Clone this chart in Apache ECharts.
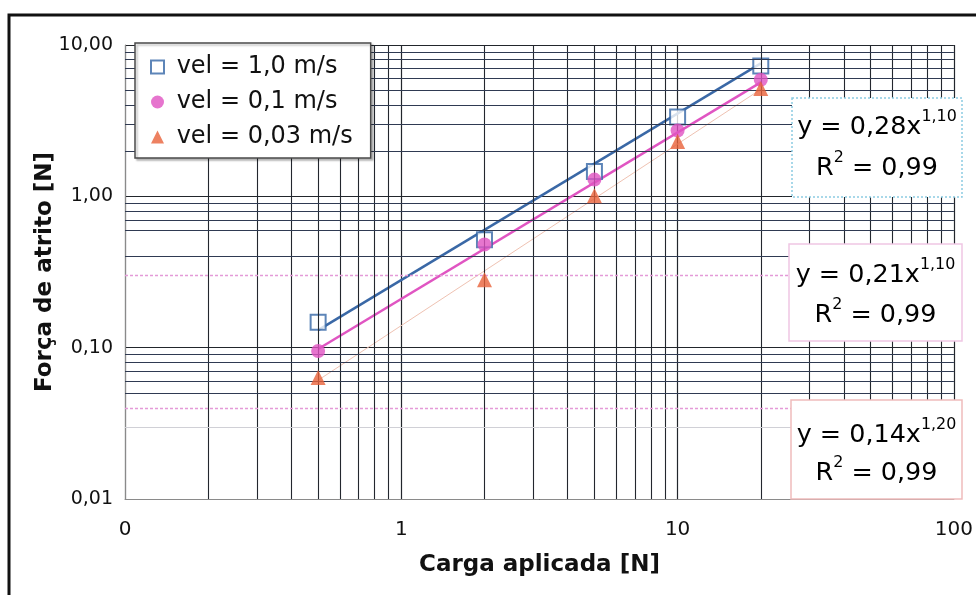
<!DOCTYPE html>
<html>
<head>
<meta charset="utf-8">
<script src="https://cdn.jsdelivr.net/npm/echarts@6/dist/echarts.min.js"></script>
<style>
  html, body { margin: 0; padding: 0; background: #fff; }
  #chart { width: 976px; height: 595px; }
</style>
</head>
<body>
<div id="chart"></div>
<script>
// Applied load [N] and measured friction force [N] for three sliding speeds
const loads = [0.5, 2, 5, 10, 20];
const seriesNames = ['vel = 1,0 m/s', 'vel = 0,1 m/s', 'vel = 0,03 m/s'];
const forceVel100 = [0.147, 0.517, 1.46, 3.34, 7.26];
const forceVel010 = [0.095, 0.48, 1.29, 2.72, 5.9];
const forceVel003 = [0.0634, 0.281, 1.01, 2.30, 5.15];

// Power-law fits y = a * x^b for each speed
const fitCoef = [0.28, 0.21, 0.14];
const fitExp = [1.10, 1.10, 1.20];
const fitR2 = [0.99, 0.99, 0.99];

// Axis tick labels (one per decade)
const xTickLabels = ['0', '1', '10', '100'];
const yTickLabels = ['0,01', '0,10', '1,00', '10,00'];

// Minor grid positions
const xMinorGrid = [0.2, 0.3, 0.4, 0.5, 0.6, 0.7, 0.8, 0.9,
                    2, 3, 4, 5, 6, 7, 8, 9,
                    20, 30, 40, 50, 60, 70, 80, 90];
const yMinorGrid = [0.05, 0.06, 0.07, 0.08, 0.09,
                    0.4, 0.6, 0.7, 0.8, 0.9,
                    2, 3, 4, 5, 6, 7, 8, 9];
const yPinkGrid = [0.04, 0.3];
const yFaintGrid = [0.03];

const FONT = 'DejaVu Sans';
const colors = ['#3566a6', '#e052c2', '#e8623a'];
const fitColors = ['#3a68a6', '#e055c2', '#efc2b2'];
const fitWidths = [2.5, 2.5, 1];

const decimalComma = v => v.toFixed(2).replace('.', ',');

function fitLine(i) {
  const x0 = loads[0], x1 = loads[loads.length - 1];
  return [[x0, fitCoef[i] * Math.pow(x0, fitExp[i])],
          [x1, fitCoef[i] * Math.pow(x1, fitExp[i])]];
}

const gridLines = [];
xMinorGrid.forEach(v => gridLines.push({ xAxis: v, lineStyle: { color: '#23272e', width: 1.1, type: 'solid' } }));
yMinorGrid.forEach(v => gridLines.push({ yAxis: v, lineStyle: { color: '#2f3a52', width: 1.1, type: 'solid' } }));
yPinkGrid.forEach(v => gridLines.push({ yAxis: v, lineStyle: { color: '#e49ad8', width: 1.3, type: [3, 2] } }));
yFaintGrid.forEach(v => gridLines.push({ yAxis: v, lineStyle: { color: '#d0d0d6', width: 1, type: 'solid' } }));

const chart = echarts.init(document.getElementById('chart'));

const forces = [forceVel100, forceVel010, forceVel003];
const symbols = ['emptyRect', 'circle', 'triangle'];
const symbolSizes = [15, 14, 15];

const fitSeries = forces.map((_, i) => ({
  type: 'line',
  name: 'fit' + i,
  data: fitLine(i),
  symbol: 'none',
  silent: true,
  z: 3,
  lineStyle: { color: fitColors[i], width: fitWidths[i] }
}));

const pointSeries = forces.map((f, i) => ({
  type: 'scatter',
  name: seriesNames[i],
  data: loads.map((x, k) => [x, f[k]]),
  symbol: symbols[i],
  symbolSize: symbolSizes[i],
  z: 4 + i,
  itemStyle: i === 0
    ? { color: colors[0], borderColor: colors[0], borderWidth: 2 }
    : { color: colors[i] }
}));

// Equation annotation boxes
const boxes = [
  { x: 792, y: 98, w: 170, h: 99, stroke: '#8ccbe2', dash: [2, 2], l1: 128, l2: 169 },
  { x: 789, y: 244, w: 173, h: 97, stroke: '#f0c6e4', dash: null, l1: 276, l2: 316 },
  { x: 791, y: 400, w: 171, h: 99, stroke: '#efbcbc', dash: null, l1: 436, l2: 474 }
];

const richText = {
  m: { fontSize: 24, fontFamily: FONT, color: '#111', padding: [6, 0, 0, 0] },
  s: { fontSize: 15, fontFamily: FONT, color: '#111', verticalAlign: 'top', lineHeight: 15 }
};

const graphics = [];
boxes.forEach((b, i) => {
  graphics.push({
    type: 'rect', silent: true, z: 100,
    shape: { x: b.x, y: b.y, width: b.w, height: b.h },
    style: { fill: '#fff', stroke: b.stroke, lineWidth: 1.5, lineDash: b.dash }
  });
  const cx = b.x + b.w / 2;
  graphics.push({
    type: 'group', x: cx, y: b.l1 - 3, scaleX: 1.06, z: 101, silent: true,
    children: [{
      type: 'text', x: 0, y: 0, z: 101,
      style: {
        text: '{m|y = ' + decimalComma(fitCoef[i]) + 'x}{s|' + decimalComma(fitExp[i]) + '}',
        rich: richText, align: 'center', verticalAlign: 'middle'
      }
    }]
  });
  graphics.push({
    type: 'group', x: cx, y: b.l2 - 3, scaleX: 1.06, z: 101, silent: true,
    children: [{
      type: 'text', x: 0, y: 0, z: 101,
      style: {
        text: '{m|R}{s|2}{m| = ' + decimalComma(fitR2[i]) + '}',
        rich: richText, align: 'center', verticalAlign: 'middle'
      }
    }]
  });
});

// Page frame
graphics.push({
  type: 'rect', silent: true, z: 200,
  shape: { x: 9, y: 15, width: 1000, height: 700 },
  style: { fill: 'none', stroke: '#111', lineWidth: 3 }
});

const option = {
  animation: false,
  backgroundColor: '#fff',
  grid: { left: 125, right: 18, top: 45, bottom: 96 },
  legend: {
    data: seriesNames,
    orient: 'vertical',
    left: 135,
    top: 43,
    itemWidth: 13,
    itemHeight: 13,
    itemGap: 11,
    padding: [12, 18, 9, 15],
    backgroundColor: '#fff',
    borderColor: '#4a4a4a',
    borderWidth: 1.5,
    shadowColor: 'rgba(0,0,0,0.25)',
    shadowBlur: 2,
    shadowOffsetX: 2,
    shadowOffsetY: 2,
    formatter: name => ' ' + name,
    textStyle: { fontSize: 24, fontFamily: FONT, color: '#111' },
    z: 50
  },
  xAxis: {
    type: 'log',
    logBase: 10,
    min: 0.1,
    max: 100,
    name: 'Carga aplicada [N]',
    nameLocation: 'middle',
    nameGap: 55,
    nameTextStyle: { fontSize: 23, fontWeight: 'bold', fontFamily: FONT, color: '#111' },
    axisLine: { show: true, lineStyle: { color: '#8a8a8a', width: 1 } },
    axisTick: { show: false },
    axisLabel: {
      fontSize: 20, fontFamily: FONT, color: '#111', margin: 21,
      formatter: v => xTickLabels[Math.round(Math.log10(v)) + 1]
    },
    splitLine: { show: true, lineStyle: { color: '#22262c', width: 1.2 } }
  },
  yAxis: {
    type: 'log',
    logBase: 10,
    min: 0.01,
    max: 10,
    name: 'Força de atrito [N]',
    nameLocation: 'middle',
    nameGap: 68,
    nameMoveOverlap: false,
    nameTextStyle: { fontSize: 23, fontWeight: 'bold', fontFamily: FONT, color: '#111' },
    axisLine: { show: true, lineStyle: { color: '#8a8a8a', width: 1 } },
    axisTick: { show: false },
    axisLabel: {
      fontSize: 19, fontFamily: FONT, color: '#111', margin: 12,
      formatter: v => yTickLabels[Math.round(Math.log10(v)) + 2]
    },
    splitLine: { show: true, lineStyle: { color: '#22262c', width: 1.2 } }
  },
  series: [
    {
      type: 'line',
      name: 'grid',
      data: [],
      silent: true,
      z: 1,
      markLine: {
        silent: true,
        symbol: 'none',
        animation: false,
        label: { show: false },
        data: gridLines
      }
    },
    ...fitSeries,
    ...pointSeries
  ],
  graphic: graphics
};

chart.setOption(option);
</script>
</body>
</html>
